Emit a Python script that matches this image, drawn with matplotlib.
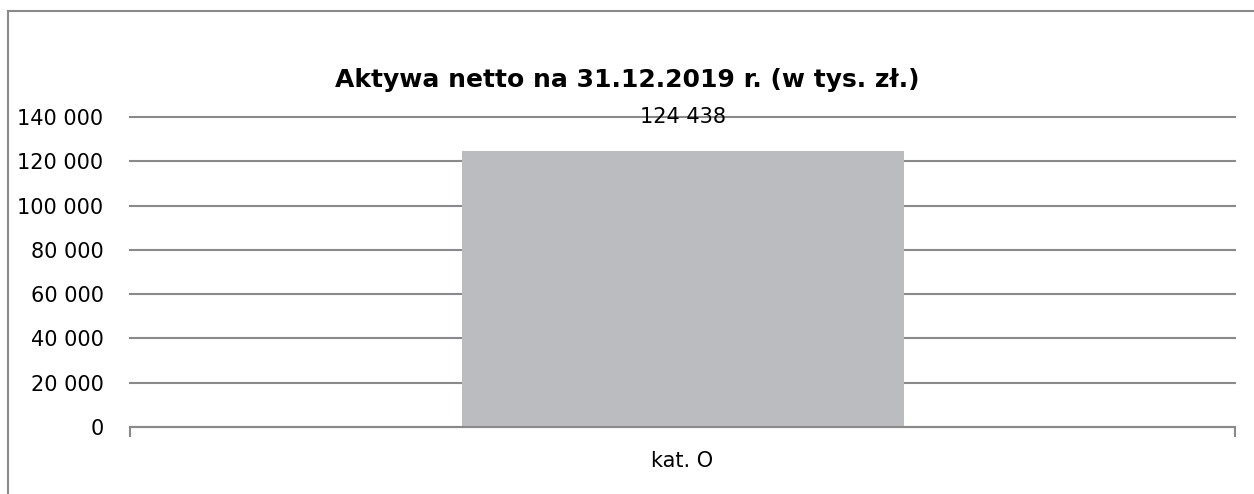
import matplotlib
matplotlib.use("Agg")
import matplotlib.pyplot as plt
from matplotlib.lines import Line2D
from matplotlib.ticker import FuncFormatter

categories = ["kat. O"]
values = [124438]
y_ticks = [0, 20000, 40000, 60000, 80000, 100000, 120000, 140000]
title = "Aktywa netto na 31.12.2019 r. (w tys. zł.)"

grid_color = "#8a8a8a"
bar_color = "#bbbcc0"

W, H = 1254, 494
fig = plt.figure(figsize=(W / 100, H / 100), dpi=100)
ax = fig.add_axes([130 / W, 1 - 427 / H, 1105 / W, 310 / H])

x = list(range(len(categories)))
bars = ax.bar(x, values, width=0.4, color=bar_color, zorder=2)

ax.set_xlim(-0.5, len(categories) - 0.5)
ax.set_ylim(0, 140000)
ax.set_yticks(y_ticks)
ax.yaxis.set_major_formatter(FuncFormatter(lambda v, p: f"{int(v):,}".replace(",", " ")))
ax.grid(axis="y", color=grid_color, linewidth=1.5, zorder=1)
ax.set_axisbelow(True)
for gl in ax.get_ygridlines():
    gl.set_clip_on(False)

for s in ["top", "right", "left"]:
    ax.spines[s].set_visible(False)
ax.spines["bottom"].set_color(grid_color)
ax.spines["bottom"].set_linewidth(1.5)
ax.spines["bottom"].set_zorder(3)

ax.set_xticks(x)
ax.set_xticklabels(categories)
ax.set_xticks([i - 0.5 for i in range(len(categories) + 1)], minor=True)
ax.tick_params(axis="x", which="major", length=0, pad=17, labelsize=15)
ax.tick_params(axis="x", which="minor", length=7, width=1.5, color=grid_color)
ax.tick_params(axis="y", length=0, pad=19, labelsize=15)

for xi, v in zip(x, values):
    ax.annotate(f"{v:,}".replace(",", " "), (xi, v), xytext=(0, 25), textcoords="offset points",
                ha="center", va="center", fontsize=15)

fig.text(0.5, 1 - 80 / H, title, ha="center", va="center", fontsize=18, fontweight="bold")

# chart border (continues beyond right and bottom edges)
fig.add_artist(Line2D([7.5 / W, 7.5 / W], [0, 1 - 11.5 / H], color=grid_color, linewidth=1.5,
                      transform=fig.transFigure))
fig.add_artist(Line2D([7.5 / W, 1], [1 - 11.5 / H, 1 - 11.5 / H], color=grid_color, linewidth=1.5,
                      transform=fig.transFigure))

fig.savefig("out.png", dpi=100)
